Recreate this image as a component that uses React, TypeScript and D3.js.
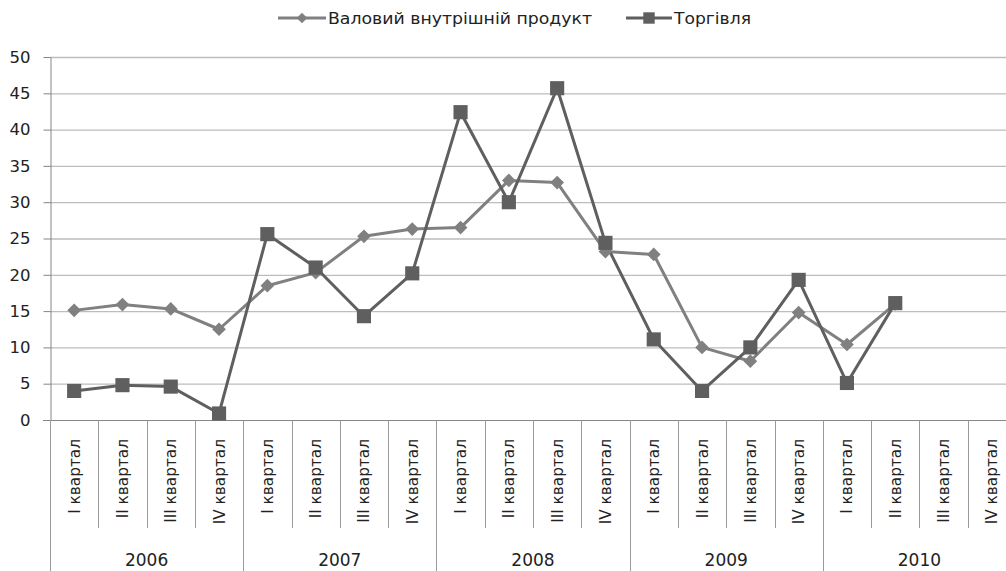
import React, { useEffect, useRef } from 'react';
import * as d3 from 'd3';

const years = ['2006', '2007', '2008', '2009', '2010'];
const quarters = ['I квартал', 'II квартал', 'III квартал', 'IV квартал'];

const gdp: (number | null)[] = [
  15.1, 15.9, 15.3, 12.5,
  18.5, 20.3, 25.3, 26.3,
  26.5, 33.0, 32.7, 23.2,
  22.8, 10.0, 8.1, 14.8,
  10.4, 16.0, null, null,
];

const trade: (number | null)[] = [
  4.0, 4.8, 4.6, 0.9,
  25.6, 21.0, 14.3, 20.2,
  42.4, 30.0, 45.7, 24.4,
  11.1, 4.0, 10.0, 19.3,
  5.1, 16.1, null, null,
];

const yTicks = [0, 5, 10, 15, 20, 25, 30, 35, 40, 45, 50];

const gdpName = 'Валовий внутрішній продукт';
const tradeName = 'Торгівля';

const App: React.FC = () => {
  const svgRef = useRef<SVGSVGElement>(null);

  useEffect(() => {
    if (!svgRef.current) return;
    const svg = d3.select(svgRef.current);
    svg.selectAll('*').remove();

    const width = 1006;
    const height = 571;
    const left = 50;
    const right = 1016;
    const top = 57;
    const bottom = 420;

    const font = "'DejaVu Sans', Verdana, sans-serif";
    const gdpColor = '#808080';
    const tradeColor = '#5f5f5f';

    const cats = years.flatMap((y) => quarters.map((q) => `${y}|${q}`));

    const x = d3.scaleBand<string>().domain(cats).range([left, right]).padding(0);
    const xc = (i: number) => (x(cats[i]) as number) + x.bandwidth() / 2;
    const y = d3.scaleLinear().domain([0, 50]).range([bottom, top]);

    svg.attr('width', width).attr('height', height);

    // Gridlines
    svg
      .append('g')
      .selectAll('line')
      .data(yTicks.filter((t) => t > 0))
      .enter()
      .append('line')
      .attr('x1', left)
      .attr('x2', right)
      .attr('y1', (d) => y(d) + 0.5)
      .attr('y2', (d) => y(d) + 0.5)
      .attr('stroke', '#bdbdbd')
      .attr('stroke-width', 1.3);

    // Y axis
    const yAxis = svg
      .append('g')
      .attr('transform', `translate(${left + 0.5},0)`)
      .call(d3.axisLeft(y).tickValues(yTicks).tickSize(7).tickSizeOuter(0).tickPadding(13));
    yAxis.select('.domain').attr('stroke', '#868686');
    yAxis.selectAll('.tick line').attr('stroke', '#868686');
    yAxis
      .selectAll('.tick text')
      .attr('font-family', font)
      .attr('font-size', 16.5)
      .attr('fill', '#222');

    // X axis baseline
    svg
      .append('line')
      .attr('x1', left - 7)
      .attr('x2', right)
      .attr('y1', bottom + 0.5)
      .attr('y2', bottom + 0.5)
      .attr('stroke', '#868686');

    // Category separators
    const sep = svg.append('g');
    cats.forEach((c, i) => {
      const xx = Math.round(x(c) as number) + 0.5;
      const isYear = i % 4 === 0;
      sep
        .append('line')
        .attr('x1', xx)
        .attr('x2', xx)
        .attr('y1', bottom)
        .attr('y2', isYear ? height : 528)
        .attr('stroke', '#9a9a9a');
    });
    sep
      .append('line')
      .attr('x1', Math.round(right) + 0.5)
      .attr('x2', Math.round(right) + 0.5)
      .attr('y1', bottom)
      .attr('y2', height)
      .attr('stroke', '#9a9a9a');

    // Quarter labels
    svg
      .append('g')
      .selectAll('text')
      .data(cats)
      .enter()
      .append('text')
      .attr('transform', (d, i) => `translate(${xc(i)},${439}) rotate(-90)`)
      .attr('text-anchor', 'end')
      .attr('dy', '0.36em')
      .attr('font-family', font)
      .attr('font-size', 15.3)
      .attr('fill', '#222')
      .text((d) => d.split('|')[1]);

    // Year labels
    svg
      .append('g')
      .selectAll('text')
      .data(years)
      .enter()
      .append('text')
      .attr('x', (d, i) => {
        const a = x(cats[i * 4]) as number;
        return a + x.bandwidth() * 2;
      })
      .attr('y', 566)
      .attr('text-anchor', 'middle')
      .attr('font-family', font)
      .attr('font-size', 17)
      .attr('fill', '#222')
      .text((d) => d);

    // Lines
    const line = d3
      .line<number | null>()
      .defined((d) => d !== null)
      .x((d, i) => xc(i))
      .y((d) => y(d as number));

    svg
      .append('path')
      .datum(gdp)
      .attr('d', line)
      .attr('fill', 'none')
      .attr('stroke', gdpColor)
      .attr('stroke-width', 3)
      .attr('stroke-linejoin', 'round');

    svg
      .append('path')
      .datum(trade)
      .attr('d', line)
      .attr('fill', 'none')
      .attr('stroke', tradeColor)
      .attr('stroke-width', 3)
      .attr('stroke-linejoin', 'round');

    const diamond = d3.symbol().type(d3.symbolDiamond2).size(120);
    const square = d3.symbol().type(d3.symbolSquare).size(200);

    svg
      .append('g')
      .selectAll('path')
      .data(gdp.map((v, i) => ({ v, i })).filter((d) => d.v !== null))
      .enter()
      .append('path')
      .attr('d', diamond)
      .attr('transform', (d) => `translate(${xc(d.i)},${y(d.v as number)})`)
      .attr('fill', gdpColor);

    svg
      .append('g')
      .selectAll('path')
      .data(trade.map((v, i) => ({ v, i })).filter((d) => d.v !== null))
      .enter()
      .append('path')
      .attr('d', square)
      .attr('transform', (d) => `translate(${xc(d.i)},${y(d.v as number)})`)
      .attr('fill', tradeColor);

    // Legend
    const legend = svg.append('g');
    const ly = 18;
    legend
      .append('line')
      .attr('x1', 278)
      .attr('x2', 326)
      .attr('y1', ly)
      .attr('y2', ly)
      .attr('stroke', gdpColor)
      .attr('stroke-width', 3);
    legend
      .append('path')
      .attr('d', d3.symbol().type(d3.symbolDiamond2).size(70)())
      .attr('transform', `translate(302,${ly})`)
      .attr('fill', gdpColor);
    legend
      .append('text')
      .attr('x', 328)
      .attr('y', ly + 6)
      .attr('font-family', font)
      .attr('font-size', 16)
      .attr('textLength', 264)
      .attr('lengthAdjust', 'spacingAndGlyphs')
      .attr('fill', '#222')
      .text(gdpName);

    legend
      .append('line')
      .attr('x1', 626)
      .attr('x2', 672)
      .attr('y1', ly)
      .attr('y2', ly)
      .attr('stroke', tradeColor)
      .attr('stroke-width', 3);
    legend
      .append('path')
      .attr('d', d3.symbol().type(d3.symbolSquare).size(130)())
      .attr('transform', `translate(649,${ly})`)
      .attr('fill', tradeColor);
    legend
      .append('text')
      .attr('x', 674)
      .attr('y', ly + 6)
      .attr('font-family', font)
      .attr('font-size', 16)
      .attr('textLength', 77)
      .attr('lengthAdjust', 'spacingAndGlyphs')
      .attr('fill', '#222')
      .text(tradeName);
  }, []);

  return (
    <svg
      ref={svgRef}
      style={{ position: 'absolute', left: 0, top: 0, display: 'block' }}
    ></svg>
  );
};

export default App;
